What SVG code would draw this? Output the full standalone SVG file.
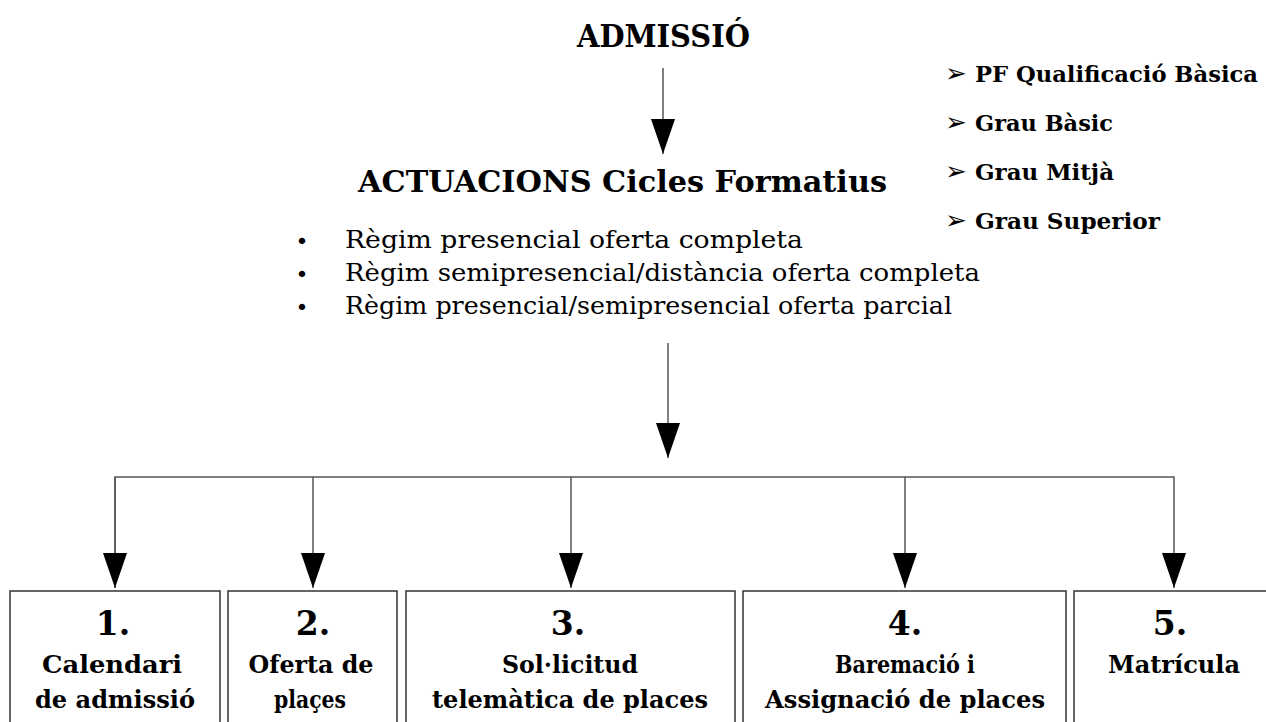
<svg xmlns="http://www.w3.org/2000/svg" width="1266" height="722" viewBox="0 0 1266 722">
<style>
  text { font-family: "DejaVu Serif", "Liberation Serif", serif; fill: #000; }
  .title { font-size: 32px; font-weight: bold; }
  .sub { font-size: 30px; font-weight: bold; }
  .li { font-size: 25px; }
  .bul { font-family: "DejaVu Sans", sans-serif; font-size: 22px; text-anchor: middle; }
  .rl { font-size: 23px; font-weight: bold; }
  .arr { font-family: "DejaVu Sans", sans-serif; font-size: 26px; }
  .num { font-size: 33px; font-weight: bold; text-anchor: middle; }
  .lab { font-size: 24px; font-weight: bold; text-anchor: middle; }
  .box { fill: #fff; stroke: #333; stroke-width: 1.5; }
  .con { fill: none; stroke: #555; stroke-width: 1.5; }
</style>
<defs>
  <marker id="ah" viewBox="0 0 35 24" refX="35" refY="12" markerWidth="35" markerHeight="24" markerUnits="userSpaceOnUse" orient="auto">
    <path d="M0,0 L35,12 L0,24 z" fill="#000"/>
  </marker>
</defs>
<rect width="1266" height="722" fill="#fff"/>

<g id="admissio">
  <text class="title" x="577" y="47" textLength="173" lengthAdjust="spacingAndGlyphs">ADMISSIÓ</text>
</g>

<g id="actuacions">
  <text class="sub" x="358" y="192" textLength="529" lengthAdjust="spacingAndGlyphs">ACTUACIONS Cicles Formatius</text>
  <text class="bul" x="302" y="249">•</text>
  <text class="bul" x="302" y="282">•</text>
  <text class="bul" x="302" y="315">•</text>
  <text class="li" x="345" y="248" textLength="458" lengthAdjust="spacingAndGlyphs">Règim presencial oferta completa</text>
  <text class="li" x="345" y="281" textLength="635" lengthAdjust="spacingAndGlyphs">Règim semipresencial/distància oferta completa</text>
  <text class="li" x="345" y="314" textLength="607" lengthAdjust="spacingAndGlyphs">Règim presencial/semipresencial oferta parcial</text>
</g>

<g id="graus">
  <text class="arr" x="945" y="82">➢</text>
  <text class="rl" x="975" y="82" textLength="283" lengthAdjust="spacingAndGlyphs">PF Qualificació Bàsica</text>
  <text class="arr" x="945" y="131">➢</text>
  <text class="rl" x="975" y="131" textLength="138" lengthAdjust="spacingAndGlyphs">Grau Bàsic</text>
  <text class="arr" x="945" y="180">➢</text>
  <text class="rl" x="975" y="180" textLength="139" lengthAdjust="spacingAndGlyphs">Grau Mitjà</text>
  <text class="arr" x="945" y="229">➢</text>
  <text class="rl" x="975" y="229" textLength="185" lengthAdjust="spacingAndGlyphs">Grau Superior</text>
</g>

<g id="connectors">
  <line class="con" x1="663" y1="68" x2="663" y2="154" marker-end="url(#ah)"/>
  <line class="con" x1="668" y1="343" x2="668" y2="458" marker-end="url(#ah)"/>
  <polyline class="con" points="115,588 115,477 1174,477 1174,588" marker-end="url(#ah)"/>
  <line class="con" x1="115" y1="477" x2="115" y2="588" marker-end="url(#ah)"/>
  <line class="con" x1="313" y1="477" x2="313" y2="588" marker-end="url(#ah)"/>
  <line class="con" x1="571" y1="477" x2="571" y2="588" marker-end="url(#ah)"/>
  <line class="con" x1="905" y1="477" x2="905" y2="588" marker-end="url(#ah)"/>
</g>

<g id="step1">
  <rect class="box" x="10" y="591" width="210" height="140"/>
  <text class="num" x="113" y="635">1.</text>
  <text class="lab" x="112" y="673" textLength="140" lengthAdjust="spacingAndGlyphs">Calendari</text>
  <text class="lab" x="115" y="708" textLength="160" lengthAdjust="spacingAndGlyphs">de admissió</text>
</g>
<g id="step2">
  <rect class="box" x="228" y="591" width="169" height="140"/>
  <text class="num" x="313" y="635">2.</text>
  <text class="lab" x="311" y="673" textLength="125" lengthAdjust="spacingAndGlyphs">Oferta de</text>
  <text class="lab" x="310" y="708" textLength="72" lengthAdjust="spacingAndGlyphs">plaçes</text>
</g>
<g id="step3">
  <rect class="box" x="406" y="591" width="329" height="140"/>
  <text class="num" x="568" y="635">3.</text>
  <text class="lab" x="570" y="673" textLength="136" lengthAdjust="spacingAndGlyphs">Sol·licitud</text>
  <text class="lab" x="570" y="708" textLength="276" lengthAdjust="spacingAndGlyphs">telemàtica de places</text>
</g>
<g id="step4">
  <rect class="box" x="743" y="591" width="323" height="140"/>
  <text class="num" x="905" y="635">4.</text>
  <text class="lab" x="905" y="673" textLength="140" lengthAdjust="spacingAndGlyphs">Baremació i</text>
  <text class="lab" x="905" y="708" textLength="280" lengthAdjust="spacingAndGlyphs">Assignació de places</text>
</g>
<g id="step5">
  <rect class="box" x="1074" y="591" width="200" height="140"/>
  <text class="num" x="1170" y="635">5.</text>
  <text class="lab" x="1174" y="673" textLength="132" lengthAdjust="spacingAndGlyphs">Matrícula</text>
</g>
</svg>
